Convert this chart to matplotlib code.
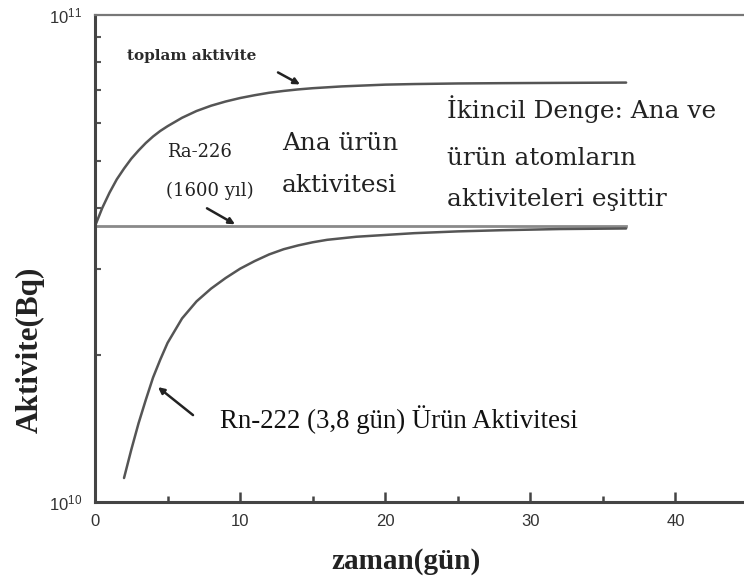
#!/usr/bin/env python3
"""
Secular equilibrium between Ra-226 and its daughter Rn-222.

Plots the parent activity, the growing daughter activity and their sum
on a log scale over about five weeks.
"""

import matplotlib.pyplot as plt
from matplotlib.ticker import FixedLocator, NullFormatter, LogLocator

# Ra-226 (parent) activity, constant over this time span
ra_days = [0, 36.6]
ra_activity = [3.68e10, 3.68e10]

# Rn-222 (daughter) activity growing in
rn_days = [2.0, 2.5, 3.0, 3.5, 4.0, 4.5, 5.0, 6.0, 7.0, 8.0, 9.0, 10.0,
           11.0, 12.0, 13.0, 14.0, 15.0, 16.0, 18.0, 20.0, 22.0, 25.0,
           28.0, 32.0, 36.6]
rn_activity = [1.12e10, 1.28e10, 1.45e10, 1.62e10, 1.80e10, 1.96e10,
               2.12e10, 2.38e10, 2.58e10, 2.74e10, 2.88e10, 3.01e10,
               3.12e10, 3.22e10, 3.30e10, 3.36e10, 3.41e10, 3.45e10,
               3.50e10, 3.53e10, 3.56e10, 3.59e10, 3.61e10, 3.63e10,
               3.64e10]

# Total activity (parent + daughter)
total_days = [0, 0.5, 1.0, 1.5, 2.0, 2.5, 3.0, 3.5, 4.0, 4.5, 5.0, 6.0,
              7.0, 8.0, 9.0, 10.0, 11.0, 12.0, 13.0, 14.0, 15.0, 16.0,
              17.0, 18.0, 20.0, 22.0, 25.0, 28.0, 32.0, 36.6]
total_activity = [3.68e10, 4.01e10, 4.31e10, 4.59e10, 4.83e10, 5.06e10,
                  5.26e10, 5.45e10, 5.62e10, 5.77e10, 5.90e10, 6.14e10,
                  6.34e10, 6.50e10, 6.63e10, 6.74e10, 6.83e10, 6.91e10,
                  6.97e10, 7.02e10, 7.06e10, 7.09e10, 7.12e10, 7.14e10,
                  7.18e10, 7.20e10, 7.22e10, 7.23e10, 7.24e10, 7.25e10]

X_LIMITS = (0, 45)
Y_LIMITS = (1e10, 1e11)
X_MAJOR = [0, 10, 20, 30, 40]
X_MINOR = [5, 15, 25, 35]

SERIF = ['DejaVu Serif']
TIMES = ['Liberation Serif']


def frac(px, py):
    """Convert a position on the 744x588 canvas to axes fraction."""
    return (px - 95) / 653.0, (502 - py) / 488.0


def draw():
    plt.rcParams['font.family'] = ['Liberation Sans', 'DejaVu Sans']
    fig = plt.figure(figsize=(7.44, 5.88), dpi=100)
    ax = fig.add_axes([95 / 744, 86 / 588, 653 / 744, 487.5 / 588])

    line_kw = dict(solid_joinstyle='round', solid_capstyle='round')
    ax.plot(total_days, total_activity, color='#555555', lw=1.8, **line_kw)
    ax.plot(ra_days, ra_activity, color='#8a8a8a', lw=2.0)
    ax.plot(rn_days, rn_activity, color='#555555', lw=1.8, **line_kw)

    ax.set_yscale('log')
    ax.set_xlim(*X_LIMITS)
    ax.set_ylim(*Y_LIMITS)

    ax.xaxis.set_major_locator(FixedLocator(X_MAJOR))
    ax.xaxis.set_minor_locator(FixedLocator(X_MINOR))
    ax.yaxis.set_major_locator(LogLocator(base=10))
    ax.yaxis.set_minor_locator(LogLocator(base=10, subs=range(2, 10)))
    ax.yaxis.set_minor_formatter(NullFormatter())

    ax.tick_params(axis='x', which='major', direction='in', length=7,
                   width=1.8, color='#444444', labelsize=12, pad=9,
                   labelcolor='#333333')
    ax.tick_params(axis='x', which='minor', direction='in', length=4,
                   width=1.8, color='#444444')
    ax.tick_params(axis='y', which='major', direction='in', length=0,
                   labelsize=12, pad=9, labelcolor='#333333')
    ax.tick_params(axis='y', which='minor', direction='in', length=4,
                   width=1.5, color='#555555')

    for side in ('left', 'bottom'):
        ax.spines[side].set_color('#444444')
        ax.spines[side].set_linewidth(2.2)
    ax.spines['top'].set_color('#777777')
    ax.spines['top'].set_linewidth(1.6)
    ax.spines['right'].set_visible(False)

    tr = ax.transAxes

    # axis titles
    ax.text(*frac(30, 350), 'Aktivite(Bq)', transform=tr, rotation=90,
            ha='center', va='center', family=TIMES, weight='bold',
            fontsize=22.5, color='#222222')
    ax.text(*frac(406, 562), 'zaman(gün)', transform=tr,
            ha='center', va='center', family=TIMES, weight='bold',
            fontsize=21, color='#222222')

    # curve labels
    ax.text(*frac(127, 60), 'toplam aktivite', transform=tr,
            ha='left', va='baseline', family=SERIF, weight='bold',
            fontsize=11, color='#2a2a2a')
    ax.text(*frac(167, 157), 'Ra-226', transform=tr,
            ha='left', va='baseline', family=SERIF, fontsize=13,
            color='#222222')
    ax.text(*frac(166, 196), '(1600 yıl)', transform=tr,
            ha='left', va='baseline', family=SERIF, fontsize=13,
            color='#222222')
    for px, py, label in [(282, 150, 'Ana ürün'),
                          (282, 192, 'aktivitesi'),
                          (447, 118, 'İkincil Denge: Ana ve'),
                          (447, 165, 'ürün atomların'),
                          (447, 206, 'aktiviteleri eşittir')]:
        ax.text(*frac(px, py), label, transform=tr, ha='left',
                va='baseline', family=SERIF, fontsize=17.8,
                color='#222222')
    ax.text(*frac(220, 428), 'Rn-222 (3,8 gün) Ürün Aktivitesi',
            transform=tr, ha='left', va='baseline', family=TIMES,
            fontsize=19.3, color='#111111')

    # pointer arrows
    arrow = dict(arrowstyle='-|>', color='#222222', lw=1.8,
                 mutation_scale=9, shrinkA=0, shrinkB=0)
    for tail, head in [((278, 72), (300, 84)),
                       ((207, 208), (235, 224)),
                       ((193, 415), (158, 387))]:
        ax.annotate('', xy=frac(*head), xytext=frac(*tail),
                    xycoords=tr, textcoords=tr, arrowprops=arrow)

    fig.savefig('out.png', dpi=100)
    plt.close(fig)


def main():
    draw()


if __name__ == '__main__':
    main()
